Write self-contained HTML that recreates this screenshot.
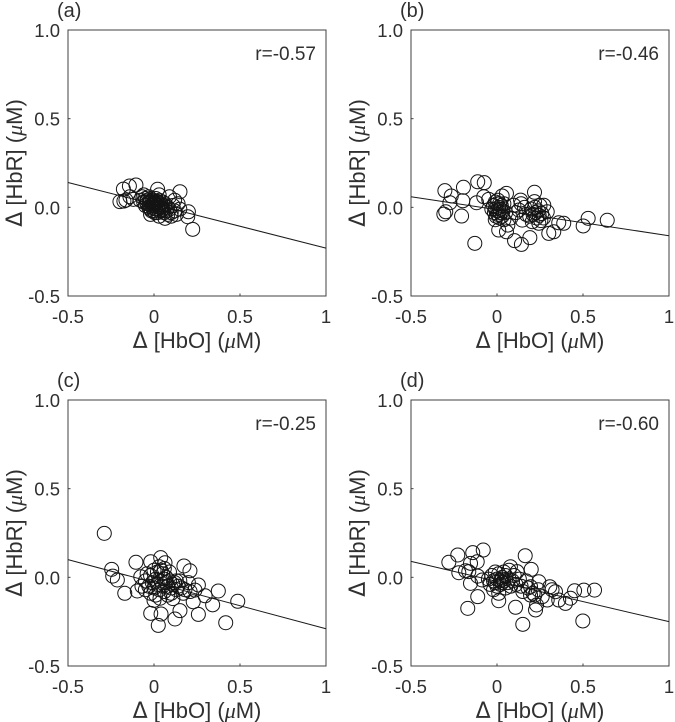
<!DOCTYPE html>
<html>
<head>
<meta charset="utf-8">
<style>
html,body{margin:0;padding:0;background:#fff;}
svg{display:block;font-family:"Liberation Sans",sans-serif;}
text{fill:#303030;}
</style>
</head>
<body>
<svg id="figure" width="675" height="722" viewBox="0 0 675 722" xmlns="http://www.w3.org/2000/svg"></svg>
<script>
const xTickValues = [-0.5, 0, 0.5, 1];
const xTickLabels = ['-0.5', '0', '0.5', '1'];
const yTickValues = [-0.5, 0, 0.5, 1];
const yTickLabels = ['-0.5', '0.0', '0.5', '1.0'];

const panelLetters = ['(a)', '(b)', '(c)', '(d)'];
const correlationLabels = ['r=-0.57', 'r=-0.46', 'r=-0.25', 'r=-0.60'];
const fitStartValues = [0.14, 0.06, 0.10, 0.09];
const fitEndValues = [-0.23, -0.16, -0.29, -0.25];

const pointsA = [[-0.105,0.126],[-0.143,0.12],[-0.178,0.103],[-0.198,0.032],[-0.163,0.041],[-0.14,0.06],[-0.175,0.035],[-0.12,0.045],[0.151,0.088],[0.021,0.102],[0.2,-0.025],[0.196,-0.053],[0.225,-0.124],[0.064,-0.062],[-0.06,0.07],[0.12,0.04],[0.14,0.02],[0.15,-0.01],[0.09,0.06],[0.03,0.07],
[-0.08,0.04],[-0.07,0.06],[-0.06,0.03],[-0.05,0.05],[-0.05,0.01],[-0.04,0.04],[-0.04,0.02],[-0.03,0.06],[-0.03,0.0],[-0.02,0.03],[-0.02,0.05],[-0.02,-0.01],[-0.01,0.02],[-0.01,0.04],[-0.01,0.0],[0.0,0.03],[0.0,0.01],[0.0,-0.02],[0.01,0.02],[0.01,0.05],[0.01,-0.01],[0.02,0.01],[0.02,0.03],[0.02,-0.03],[0.03,0.0],[0.03,0.04],[0.04,-0.02],[0.04,0.02],[0.05,-0.01],[0.05,0.03],[0.06,-0.03],[0.06,0.01],[0.07,-0.02],[0.08,0.0],[0.08,-0.04],[0.09,-0.01],[0.1,-0.03],[0.11,0.01],[0.12,-0.02],[0.13,-0.04],[-0.02,-0.04],[0.03,-0.05],[0.1,-0.05],
[-0.03,0.02],[-0.025,0.035],[-0.015,0.01],[-0.005,0.025],[0.005,0.015],[0.015,0.035],[0.025,-0.01],[0.035,0.015],[-0.045,0.03],[-0.015,-0.02],[0.005,-0.03],[0.045,0.0],[0.055,-0.02],[0.065,0.02]];

const pointsB = [[-0.303,0.094],[-0.266,0.064],[-0.274,0.026],[-0.309,-0.038],[-0.298,-0.025],[-0.206,-0.049],[-0.195,0.113],[-0.199,0.037],[-0.112,0.144],[-0.074,0.139],[-0.119,0.026],[-0.077,0.06],[-0.048,0.045],[-0.129,-0.203],[0.055,0.079],[0.03,0.064],[0.218,0.085],[0.218,0.032],[0.137,0.041],[0.01,-0.128],[0.063,-0.1],[0.055,-0.138],[0.102,-0.188],[0.142,-0.209],[0.191,-0.171],[0.301,-0.147],[0.33,-0.138],[0.359,-0.087],[0.388,-0.09],[0.501,-0.105],[0.53,-0.062],[0.641,-0.073],
[0.127,-0.015],[0.147,-0.072],[0.205,-0.081],[0.243,-0.09],[0.272,0.012],[0.292,-0.025],[0.098,0.012],[-0.03,-0.01],[0.08,-0.06],[0.14,0.02],
[-0.02,0.01],[-0.015,-0.03],[-0.01,0.03],[-0.01,-0.01],[-0.005,-0.05],[0.0,0.02],[0.0,-0.02],[0.005,0.04],[0.005,-0.04],[0.01,0.0],[0.01,-0.02],[0.015,0.02],[0.015,-0.06],[0.02,-0.01],[0.02,-0.03],[0.025,0.01],[0.03,-0.05],[0.035,-0.02],[0.04,0.02],[0.04,-0.07],[-0.01,-0.07],[0.05,-0.03],
[0.2,-0.01],[0.21,-0.04],[0.22,0.0],[0.225,-0.03],[0.23,-0.06],[0.24,-0.02],[0.245,-0.045],[0.25,0.01],[0.26,-0.035],[0.27,-0.06],[0.19,-0.05],[0.255,-0.075],[0.11,-0.03],[0.16,0.0],[0.17,-0.04]];

const pointsC = [[-0.289,0.248],[-0.246,0.045],[-0.24,0.007],[-0.213,-0.015],[-0.17,-0.09],[-0.105,0.085],[-0.097,-0.077],[-0.077,0.003],[-0.019,0.088],[0.039,0.111],[0.064,0.082],[0.174,0.064],[0.209,0.037],[0.374,-0.077],[0.487,-0.135],[0.341,-0.155],[0.417,-0.256],[0.258,-0.209],[0.151,-0.188],[0.122,-0.235],[0.025,-0.271],[0.041,-0.207],[-0.019,-0.203],[0.228,-0.138],[0.297,-0.104],[0.258,-0.043],[0.238,-0.072],[0.035,-0.118],
[-0.05,-0.02],[-0.05,-0.07],[-0.04,0.02],[-0.03,-0.05],[-0.02,-0.09],[-0.02,0.01],[-0.01,-0.03],[0.0,-0.06],[0.0,0.04],[0.01,-0.01],[0.01,-0.1],[0.02,-0.04],[0.02,0.03],[0.03,-0.07],[0.03,0.06],[0.04,-0.02],[0.05,-0.05],[0.05,0.02],[0.06,-0.08],[0.06,0.05],[0.07,-0.03],[0.07,0.0],[0.08,-0.05],[0.08,-0.1],[0.09,-0.02],[0.09,0.03],[0.1,-0.06],[0.11,-0.04],[0.11,-0.12],[0.12,-0.03],[0.13,-0.07],[0.14,-0.05],[0.15,-0.02],[0.16,-0.06],[0.18,-0.07],[0.2,-0.03],[0.21,-0.08],[-0.07,-0.05],[0.04,0.04],[0.06,-0.01],[0.1,-0.09],[0.13,-0.02],[0.17,-0.09],[0.0,-0.13]];

const pointsD = [[-0.28,0.085],[-0.228,0.126],[-0.141,0.139],[-0.08,0.154],[-0.115,0.088],[-0.154,0.079],[-0.222,0.026],[-0.183,0.037],[-0.164,0.032],[-0.154,-0.034],[-0.112,0.007],[-0.086,-0.015],[-0.112,-0.109],[-0.17,-0.175],[0.164,0.122],[0.199,0.045],[0.108,-0.169],[0.15,-0.265],[0.499,-0.246],[0.224,-0.184],[0.23,-0.156],[0.01,-0.132],[0.567,-0.072],[0.505,-0.072],[0.451,-0.076],[0.427,-0.118],[0.398,-0.147],[0.359,-0.128],[0.34,-0.081],[0.307,-0.053],[0.292,-0.128],[0.263,-0.109],[0.243,-0.025],[0.195,-0.053],[0.195,-0.1],[0.117,0.032],[0.078,0.06],[0.32,-0.07],[0.21,-0.09],[0.17,-0.02],
[-0.05,-0.01],[-0.04,-0.04],[-0.03,0.01],[-0.02,-0.02],[-0.02,-0.07],[-0.01,0.03],[-0.01,-0.03],[0.0,-0.01],[0.0,-0.05],[0.01,0.02],[0.01,-0.09],[0.02,-0.02],[0.02,-0.04],[0.03,0.0],[0.03,-0.01],[0.03,-0.03],[0.04,0.03],[0.04,-0.02],[0.05,-0.06],[0.05,0.01],[0.06,-0.03],[0.07,0.04],[0.07,-0.01],[0.08,-0.05],[0.09,-0.02],[0.1,0.01],[0.11,-0.04],[0.13,-0.01],[0.14,-0.05],[0.15,-0.08],[0.18,-0.06],[0.22,-0.1],[0.24,-0.07]];

const seriesPoints = [pointsA, pointsB, pointsC, pointsD];

const SVG_NS = 'http://www.w3.org/2000/svg';
const figure = document.getElementById('figure');
const panelLefts = [68, 411, 68, 411];
const panelTops = [30, 30, 400, 400];
const panelWidth = 258;
const panelHeight = 266;

function scaleX(value, left) {
  return left + (value + 0.5) / 1.5 * panelWidth;
}
function scaleY(value, top) {
  return top + (1 - value) / 1.5 * panelHeight;
}
function makeSvg(tag, attrs, parent) {
  const el = document.createElementNS(SVG_NS, tag);
  Object.keys(attrs).forEach(function (k) { el.setAttribute(k, attrs[k]); });
  parent.appendChild(el);
  return el;
}
function addAxisLabel(parent, attrs, mainText, tailText) {
  const label = makeSvg('text', attrs, parent);
  const delta = makeSvg('tspan', {'font-family': '"DejaVu Sans",sans-serif'}, label);
  delta.textContent = 'Δ';
  const mid = makeSvg('tspan', {}, label);
  mid.textContent = ' ' + mainText + ' (';
  const mu = makeSvg('tspan', {'font-style': 'italic', 'font-family': '"Liberation Serif",serif'}, label);
  mu.textContent = 'μ';
  const tail = makeSvg('tspan', {}, label);
  tail.textContent = tailText;
  return label;
}

panelLetters.forEach(function (letter, i) {
  const left = panelLefts[i];
  const top = panelTops[i];
  const panel = makeSvg('g', {}, figure);
  
  

  const frame = makeSvg('rect', {x: left, y: top, width: panelWidth, height: panelHeight, fill: 'none', stroke: '#404040', 'stroke-width': 1}, panel);
  
  

  xTickValues.forEach(function (v, t) {
    const px = scaleX(v, left);
    const bottom = top + panelHeight;
    const tick = makeSvg('line', {x1: px, x2: px, y1: bottom, y2: bottom - 2.5, stroke: '#404040', 'stroke-width': 1}, panel);
    
    
    const label = makeSvg('text', {x: px, y: bottom + 27, 'text-anchor': 'middle', 'font-size': 18.5}, panel);
    label.textContent = xTickLabels[t];
    
    
  });

  yTickValues.forEach(function (v, t) {
    const py = scaleY(v, top);
    const tick = makeSvg('line', {x1: left, x2: left + 2.5, y1: py, y2: py, stroke: '#404040', 'stroke-width': 1}, panel);
    
    
    const label = makeSvg('text', {x: left - 8, y: py + 7, 'text-anchor': 'end', 'font-size': 18.5}, panel);
    label.textContent = yTickLabels[t];
    
    
  });

  const fit = makeSvg('line', {
    x1: scaleX(-0.5, left), y1: scaleY(fitStartValues[i], top),
    x2: scaleX(1, left), y2: scaleY(fitEndValues[i], top),
    stroke: '#1a1a1a', 'stroke-width': 1
  }, panel);
  
  

  seriesPoints[i].forEach(function (p) {
    const dot = makeSvg('circle', {cx: scaleX(p[0], left), cy: scaleY(p[1], top), r: 7, fill: 'none', stroke: '#141414', 'stroke-width': 1}, panel);
    
    
  });

  const title = makeSvg('text', {x: left - 11, y: top - 13, 'font-size': 20}, panel);
  title.textContent = letter;
  
  

  const corr = makeSvg('text', {x: left + 248, y: top + 30, 'text-anchor': 'end', 'font-size': 19}, panel);
  corr.textContent = correlationLabels[i];
  
  

  const xTitle = addAxisLabel(panel, {x: left + 129, y: top + panelHeight + 52, 'text-anchor': 'middle', 'font-size': 22}, '[HbO]', 'M)');
  
  

  const yx = left - 46;
  const yy = top + 133;
  const yTitle = addAxisLabel(panel, {x: yx, y: yy, transform: 'rotate(-90 ' + yx + ' ' + yy + ')', 'text-anchor': 'middle', 'font-size': 22}, '[HbR]', 'M)');
  
  
});
</script>
</body>
</html>
